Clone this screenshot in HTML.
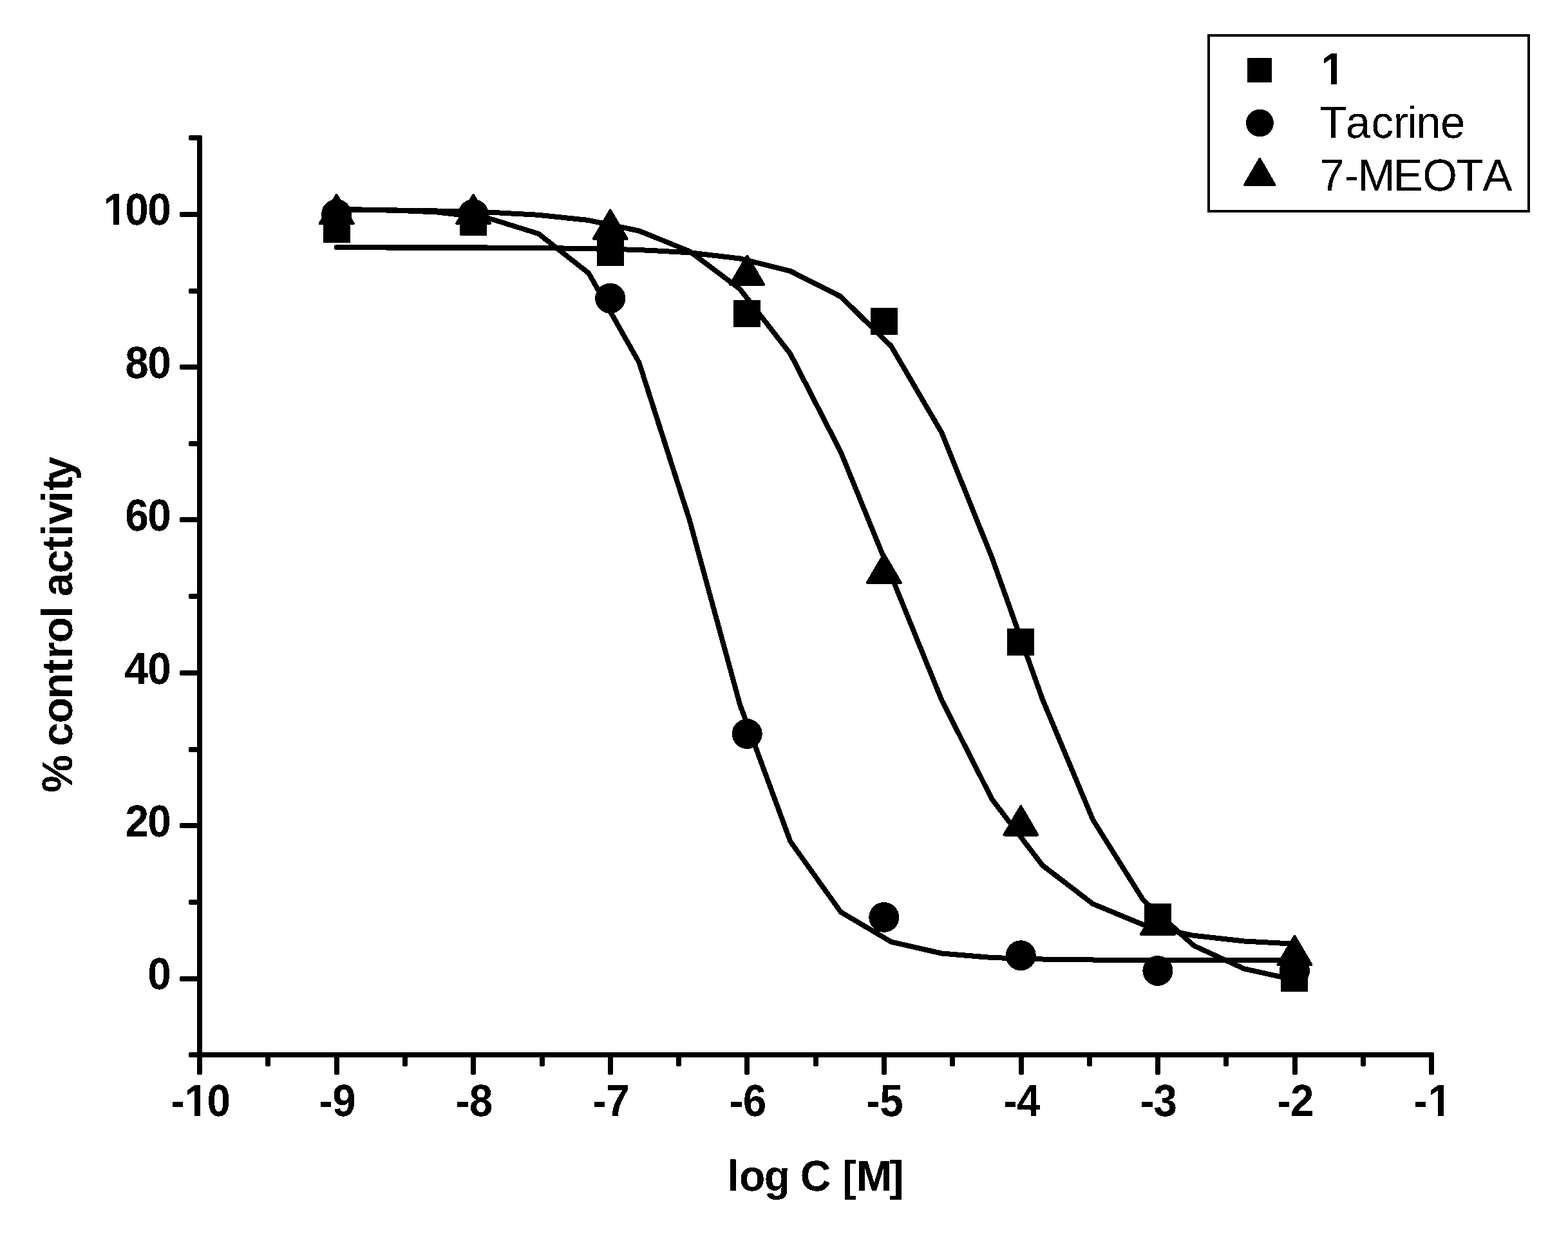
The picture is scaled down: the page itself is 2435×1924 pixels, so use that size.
<!DOCTYPE html>
<html lang="en">
<head>
<meta charset="utf-8">
<title>% control activity vs log C [M]</title>
<style>
html,body{margin:0;padding:0;background:#fff;}
body{width:2435px;height:1924px;overflow:hidden;}
svg{display:block;}
text{font-family:"Liberation Sans",sans-serif;fill:#000;font-kerning:none;white-space:pre;text-rendering:geometricPrecision;}
.b{font-weight:bold;}
</style>
</head>
<body>
<svg width="2435" height="1924" viewBox="0 0 2435 1924">
<rect x="0" y="0" width="2435" height="1924" fill="#fff"/>
<defs><filter id="bw" filterUnits="userSpaceOnUse" x="0" y="0" width="2435" height="1924" color-interpolation-filters="sRGB"><feComponentTransfer color-interpolation-filters="sRGB"><feFuncR type="discrete" tableValues="0 1"/><feFuncG type="discrete" tableValues="0 1"/><feFuncB type="discrete" tableValues="0 1"/><feFuncA type="discrete" tableValues="1 1"/></feComponentTransfer></filter></defs>
<g filter="url(#bw)">
<rect x="0" y="0" width="2435" height="1924" fill="#fff"/>
<g fill="none" stroke="#000" stroke-width="8" stroke-linejoin="round" stroke-linecap="round">
<polyline points="522.6,384.3 600.9,384.4 679.2,384.4 757.5,384.6 835.8,385.1 914.1,386.0 992.4,388.0 1070.7,392.3 1149.0,401.5 1227.3,420.9 1305.7,460.6 1384.0,537.7 1462.3,671.7 1540.6,866.3 1618.9,1085.9 1697.2,1273.0 1775.5,1397.9 1853.8,1468.3 1932.1,1504.3 2010.4,1521.7"/>
<polyline points="522.6,324.9 600.9,326.1 679.2,329.5 757.5,338.5 835.8,362.7 914.1,424.1 992.4,562.9 1070.7,807.2 1149.0,1094.0 1227.3,1306.5 1305.7,1416.3 1384.0,1462.6 1462.3,1480.5 1540.6,1487.1 1618.9,1489.6 1697.2,1490.5 1775.5,1490.8 1853.8,1490.9 1932.1,1491.0 2010.4,1491.0"/>
<polyline points="522.6,325.9 600.9,326.4 679.2,327.5 757.5,329.5 835.8,333.7 914.1,342.1 992.4,358.5 1070.7,390.1 1149.0,448.7 1227.3,549.4 1305.7,701.9 1384.0,894.1 1462.3,1087.0 1540.6,1241.3 1618.9,1343.8 1697.2,1403.6 1775.5,1436.0 1853.8,1452.8 1932.1,1461.4 2010.4,1465.7"/>
</g>
<g fill="#000" stroke="none">
<rect x="501.6" y="335.4" width="42" height="42"/>
<rect x="714.1" y="323.5" width="42" height="42"/>
<rect x="926.7" y="371.0" width="42" height="42"/>
<rect x="1139.2" y="465.9" width="42" height="42"/>
<rect x="1351.8" y="477.8" width="42" height="42"/>
<rect x="1564.3" y="976.2" width="42" height="42"/>
<rect x="1776.9" y="1403.4" width="42" height="42"/>
<rect x="1989.4" y="1498.3" width="42" height="42"/>
<circle cx="522.6" cy="332.7" r="23.5"/>
<circle cx="735.1" cy="332.7" r="23.5"/>
<circle cx="947.7" cy="463.2" r="23.5"/>
<circle cx="1160.2" cy="1139.6" r="23.5"/>
<circle cx="1372.8" cy="1424.4" r="23.5"/>
<circle cx="1585.3" cy="1483.7" r="23.5"/>
<circle cx="1797.9" cy="1507.5" r="23.5"/>
<circle cx="2010.4" cy="1507.5" r="23.5"/>
<polygon stroke="#000" stroke-width="4" stroke-linejoin="round" points="522.6,302.7 548.6,347.1 496.6,347.1"/>
<polygon stroke="#000" stroke-width="4" stroke-linejoin="round" points="735.1,302.7 761.1,347.1 709.1,347.1"/>
<polygon stroke="#000" stroke-width="4" stroke-linejoin="round" points="947.7,326.4 973.7,370.8 921.7,370.8"/>
<polygon stroke="#000" stroke-width="4" stroke-linejoin="round" points="1160.2,397.6 1186.2,442.0 1134.2,442.0"/>
<polygon stroke="#000" stroke-width="4" stroke-linejoin="round" points="1372.8,860.4 1398.8,904.8 1346.8,904.8"/>
<polygon stroke="#000" stroke-width="4" stroke-linejoin="round" points="1585.3,1252.0 1611.3,1296.4 1559.3,1296.4"/>
<polygon stroke="#000" stroke-width="4" stroke-linejoin="round" points="1797.9,1406.3 1823.9,1450.7 1771.9,1450.7"/>
<polygon stroke="#000" stroke-width="4" stroke-linejoin="round" points="2010.4,1453.7 2036.4,1498.1 1984.4,1498.1"/>
</g>
<g fill="#000" stroke="none">
<rect x="306" y="214" width="8" height="1424"/>
<rect x="310" y="1634" width="1913" height="8"/>
<rect x="306" y="1634" width="8" height="35" rx="2.5"/>
<rect x="412" y="1634" width="8" height="22" rx="2.5"/>
<rect x="519" y="1634" width="8" height="35" rx="2.5"/>
<rect x="625" y="1634" width="8" height="22" rx="2.5"/>
<rect x="731" y="1634" width="8" height="35" rx="2.5"/>
<rect x="838" y="1634" width="8" height="22" rx="2.5"/>
<rect x="944" y="1634" width="8" height="35" rx="2.5"/>
<rect x="1050" y="1634" width="8" height="22" rx="2.5"/>
<rect x="1156" y="1634" width="8" height="35" rx="2.5"/>
<rect x="1263" y="1634" width="8" height="22" rx="2.5"/>
<rect x="1369" y="1634" width="8" height="35" rx="2.5"/>
<rect x="1475" y="1634" width="8" height="22" rx="2.5"/>
<rect x="1582" y="1634" width="8" height="35" rx="2.5"/>
<rect x="1688" y="1634" width="8" height="22" rx="2.5"/>
<rect x="1794" y="1634" width="8" height="35" rx="2.5"/>
<rect x="1900" y="1634" width="8" height="22" rx="2.5"/>
<rect x="2007" y="1634" width="8" height="35" rx="2.5"/>
<rect x="2113" y="1634" width="8" height="22" rx="2.5"/>
<rect x="2219" y="1634" width="8" height="35" rx="2.5"/>
<rect x="293" y="1634" width="21" height="8" rx="2.5"/>
<rect x="279" y="1516" width="35" height="8" rx="2.5"/>
<rect x="293" y="1397" width="21" height="8" rx="2.5"/>
<rect x="279" y="1278" width="35" height="8" rx="2.5"/>
<rect x="293" y="1160" width="21" height="8" rx="2.5"/>
<rect x="279" y="1041" width="35" height="8" rx="2.5"/>
<rect x="293" y="922" width="21" height="8" rx="2.5"/>
<rect x="279" y="803" width="35" height="8" rx="2.5"/>
<rect x="293" y="685" width="21" height="8" rx="2.5"/>
<rect x="279" y="566" width="35" height="8" rx="2.5"/>
<rect x="293" y="448" width="21" height="8" rx="2.5"/>
<rect x="279" y="329" width="35" height="8" rx="2.5"/>
<rect x="293" y="210" width="21" height="8" rx="2.5"/>
</g>
<g transform="scale(0.98 1.04)">
<text class="b" font-size="67" x="270.51 292.72 328.15" y="1666.35">-10</text>
<rect fill="#fff" x="295.4" y="1657.97" width="12.96" height="10.05"/>
<rect fill="#fff" x="317.55" y="1657.97" width="12.07" height="10.05"/>
</g>
<text class="b" font-size="67" transform="scale(0.98 1.04)" x="505.21 526.69" y="1666.35">-9</text>
<text class="b" font-size="67" transform="scale(0.98 1.04)" x="722.1 743.58" y="1666.35">-8</text>
<text class="b" font-size="67" transform="scale(0.98 1.04)" x="939 960.48" y="1666.35">-7</text>
<text class="b" font-size="67" transform="scale(0.98 1.04)" x="1155.89 1177.37" y="1666.35">-6</text>
<text class="b" font-size="67" transform="scale(0.98 1.04)" x="1372.78 1394.26" y="1666.35">-5</text>
<text class="b" font-size="67" transform="scale(0.98 1.04)" x="1589.68 1611.16" y="1666.35">-4</text>
<text class="b" font-size="67" transform="scale(0.98 1.04)" x="1806.57 1828.05" y="1666.35">-3</text>
<text class="b" font-size="67" transform="scale(0.98 1.04)" x="2023.46 2044.94" y="1666.35">-2</text>
<g transform="scale(0.98 1.04)">
<text class="b" font-size="67" x="2239.9 2263.03" y="1666.35">-1</text>
<rect fill="#fff" x="2265.71" y="1657.97" width="12.96" height="10.05"/>
<rect fill="#fff" x="2287.86" y="1657.97" width="12.07" height="10.05"/>
</g>
<text class="b" font-size="67" transform="scale(0.98 1.04)" x="233.92" y="1476.92">0</text>
<text class="b" font-size="67" transform="scale(0.98 1.04)" x="198.44 233.92" y="1249.04">20</text>
<text class="b" font-size="67" transform="scale(0.98 1.04)" x="197.34 233.92" y="1021.15">40</text>
<text class="b" font-size="67" transform="scale(0.98 1.04)" x="198.24 233.92" y="792.31">60</text>
<text class="b" font-size="67" transform="scale(0.98 1.04)" x="198.22 233.92" y="564.42">80</text>
<g transform="scale(0.98 1.04)">
<text class="b" font-size="67" x="164 198.15 233.92" y="335.58">100</text>
<rect fill="#fff" x="166.68" y="327.2" width="12.96" height="10.05"/>
<rect fill="#fff" x="188.83" y="327.2" width="12.07" height="10.05"/>
</g>
<text class="b" font-size="67" transform="scale(0.985 1)" x="1146.41 1165.43 1204.72 1245.64 1261.69 1310.08 1328.03 1350.27 1402.19" y="1849">log C [M]</text>
<text class="b" font-size="67" transform="translate(112.2 1228) rotate(-90) scale(0.985 1)" x="-2.83 56.74 70.23 106.39 144.99 185.34 208.21 233.14 272.5 291.12 306.37 342.97 379.05 401.54 419.76 454.13 472.85 489.8" y="0">% control activity</text>
<rect x="1877" y="55" width="497" height="273" fill="#fff" stroke="#000" stroke-width="4"/>
<g fill="#000">
<rect x="1937" y="90" width="38" height="38"/>
<circle cx="1956.4" cy="191" r="21.4"/>
<polygon stroke="#000" stroke-width="4" stroke-linejoin="round" points="1956.3,246.9 1979.3,287 1933,287"/>
</g>
<g transform="scale(0.98 1.04)">
<text class="b" font-size="67" x="2093.74" y="125.96">1</text>
<rect fill="#fff" x="2096.42" y="117.58" width="12.96" height="10.05"/>
<rect fill="#fff" x="2118.57" y="117.58" width="12.07" height="10.05"/>
</g>
<text font-size="67" transform="scale(1.03 1.0412)" x="1989.8 2028.83 2067.56 2100.62 2121.7 2135.11 2171.87" y="205.53">Tacrine</text>
<text font-size="67" transform="scale(1.03 1.0412)" x="1989.73 2026.71 2047.34 2100.52 2144.88 2195.57 2235.33" y="284.29">7-MEOTA</text>
</g>
</svg>
</body>
</html>
